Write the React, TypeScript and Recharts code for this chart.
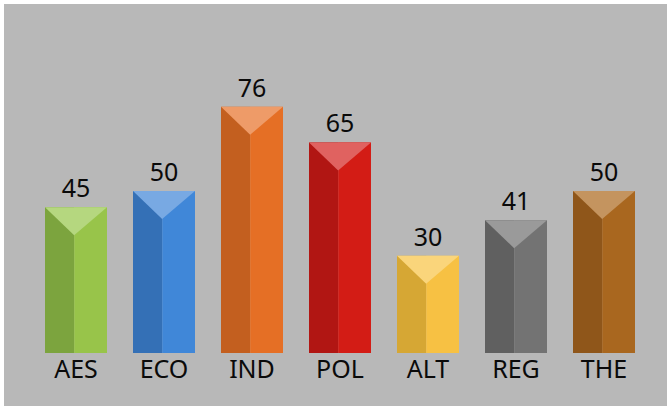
import React from 'react';
import { BarChart, Bar, XAxis, YAxis, LabelList, Cell } from 'recharts';

const categories = ['AES', 'ECO', 'IND', 'POL', 'ALT', 'REG', 'THE'];
const values = [45, 50, 76, 65, 30, 41, 50];

const leftColors = ['#7ca43e', '#3470b6', '#c35f1f', '#b11613', '#d6a734', '#606060', '#8f561a'];
const rightColors = ['#98c44a', '#4087d8', '#e56f25', '#d31c15', '#f7c143', '#737373', '#a9671f'];
const topColors = ['#b5d77f', '#78a9e3', '#ee9b68', '#e06260', '#fad57b', '#9a9a9a', '#c4945f'];

const data = categories.map((c, i) => ({ name: c, value: values[i], idx: i }));

const PrismBar = (props: any) => {
  const { x, y, width, height, payload } = props;
  const i = payload.idx;
  const split = width * 0.47;
  const depth = Math.min(28, height);
  return (
    <g>
      <rect x={x} y={y} width={split} height={height} fill={leftColors[i]} />
      <rect x={x + split} y={y} width={width - split} height={height} fill={rightColors[i]} />
      <polygon
        points={`${x},${y} ${x + width},${y} ${x + split},${y + depth}`}
        fill={topColors[i]}
      />
    </g>
  );
};

const ValueLabel = (props: any) => {
  const { x, y, width, value } = props;
  return (
    <text
      x={x + width / 2}
      y={y - 10}
      textAnchor="middle"
      fontFamily="'Noto Sans', sans-serif"
      fontSize={25}
      fill="#0a0a0a"
    >
      {value}
    </text>
  );
};

export default function App() {
  return (
    <div style={{ position: 'absolute', left: 4, top: 4, width: 663, height: 402, background: '#b8b8b8' }}>
      <BarChart
        width={663}
        height={402}
        data={data}
        margin={{ top: 25, right: 19, bottom: 0, left: 28 }}
        barCategoryGap={13}
      >
        <XAxis
          dataKey="name"
          axisLine={false}
          tickLine={false}
          tickSize={0}
          tickMargin={7}
          height={53}
          interval={0}
          tick={{ fill: '#0a0a0a', fontSize: 25, fontFamily: "'Noto Sans', sans-serif" }}
        />
        <YAxis hide domain={[0, 100]} />
        <Bar dataKey="value" isAnimationActive={false} shape={PrismBar}>
          {data.map((d, i) => (
            <Cell key={i} fill={rightColors[i]} />
          ))}
          <LabelList dataKey="value" content={ValueLabel} />
        </Bar>
      </BarChart>
    </div>
  );
}
